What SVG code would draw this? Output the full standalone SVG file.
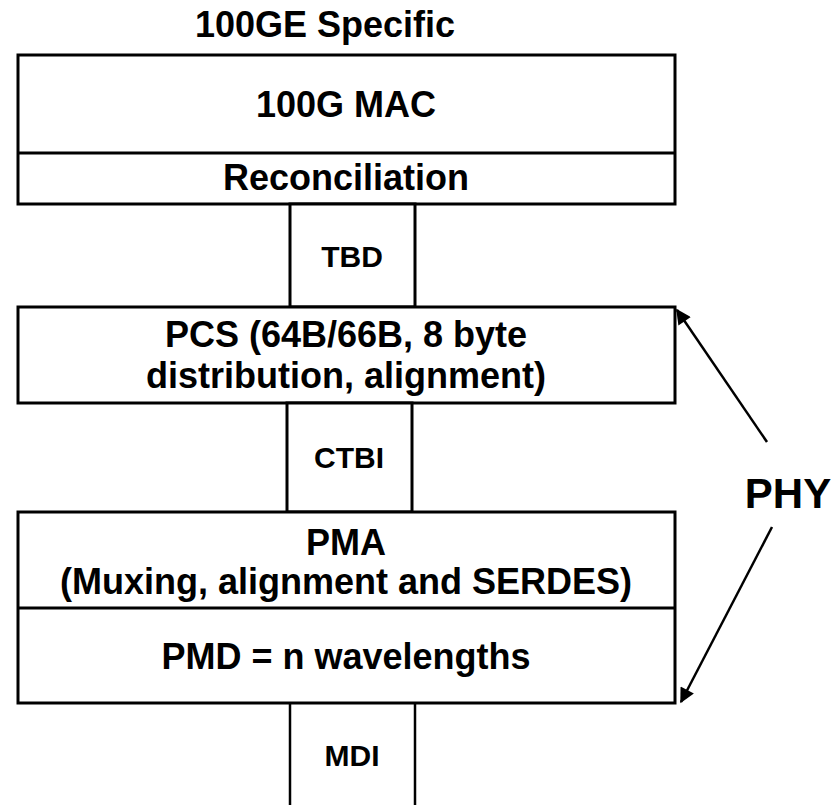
<svg xmlns="http://www.w3.org/2000/svg" width="833" height="805" viewBox="0 0 833 805">
<defs>
<style>
.box{fill:#fff;stroke:#000;stroke-width:3}
.ln{stroke:#000;stroke-width:3;fill:none}
.t{font-family:"Liberation Sans",Arial,sans-serif;font-weight:bold;font-size:36px;fill:#000;text-anchor:middle}
.s{font-size:30px}
.arr{stroke:#000;stroke-width:2.5;fill:none;marker-end:url(#ah)}
</style>
<marker id="ah" viewBox="0 0 10 10" refX="9" refY="5" markerWidth="7" markerHeight="6" markerUnits="strokeWidth" orient="auto">
<path d="M0,0 L10,5 L0,10 z" fill="#000"/>
</marker>
</defs>
<rect width="833" height="805" fill="#fff"/>
<g id="title"><text class="t" x="325" y="37">100GE Specific</text></g>
<g id="mac">
<rect class="box" x="18" y="55" width="657" height="149"/>
<text class="t" x="346" y="117">100G MAC</text>
</g>
<g id="reconciliation">
<line class="ln" x1="18" y1="153" x2="675" y2="153"/>
<text class="t" x="346" y="190">Reconciliation</text>
</g>
<g id="tbd">
<rect class="box" x="290" y="204" width="125" height="103"/>
<text class="t s" x="352" y="267">TBD</text>
</g>
<g id="pcs">
<rect class="box" x="18" y="307" width="657" height="96"/>
<text class="t" x="346" y="347">PCS (64B/66B, 8 byte</text>
<text class="t" x="346" y="388">distribution, alignment)</text>
</g>
<g id="ctbi">
<rect class="box" x="287" y="403" width="125" height="109"/>
<text class="t s" x="349" y="468">CTBI</text>
</g>
<g id="pma">
<rect class="box" x="18" y="512" width="657" height="191"/>
<text class="t" x="346" y="555">PMA</text>
<text class="t" x="346" y="594">(Muxing, alignment and SERDES)</text>
</g>
<g id="pmd">
<line class="ln" x1="18" y1="608" x2="675" y2="608"/>
<text class="t" x="346" y="669">PMD = n wavelengths</text>
</g>
<g id="mdi">
<line class="ln" x1="290" y1="703" x2="290" y2="805" style="stroke-width:2.5"/>
<line class="ln" x1="415" y1="703" x2="415" y2="805" style="stroke-width:2.5"/>
<text class="t s" x="352" y="766">MDI</text>
</g>
<g id="phy"><text class="t" x="788" y="508" style="font-size:42px">PHY</text></g>
<g id="connectors">
<line class="arr" x1="767" y1="442" x2="677" y2="310"/>
<line class="arr" x1="772" y1="527" x2="681" y2="702"/>
</g>
</svg>
